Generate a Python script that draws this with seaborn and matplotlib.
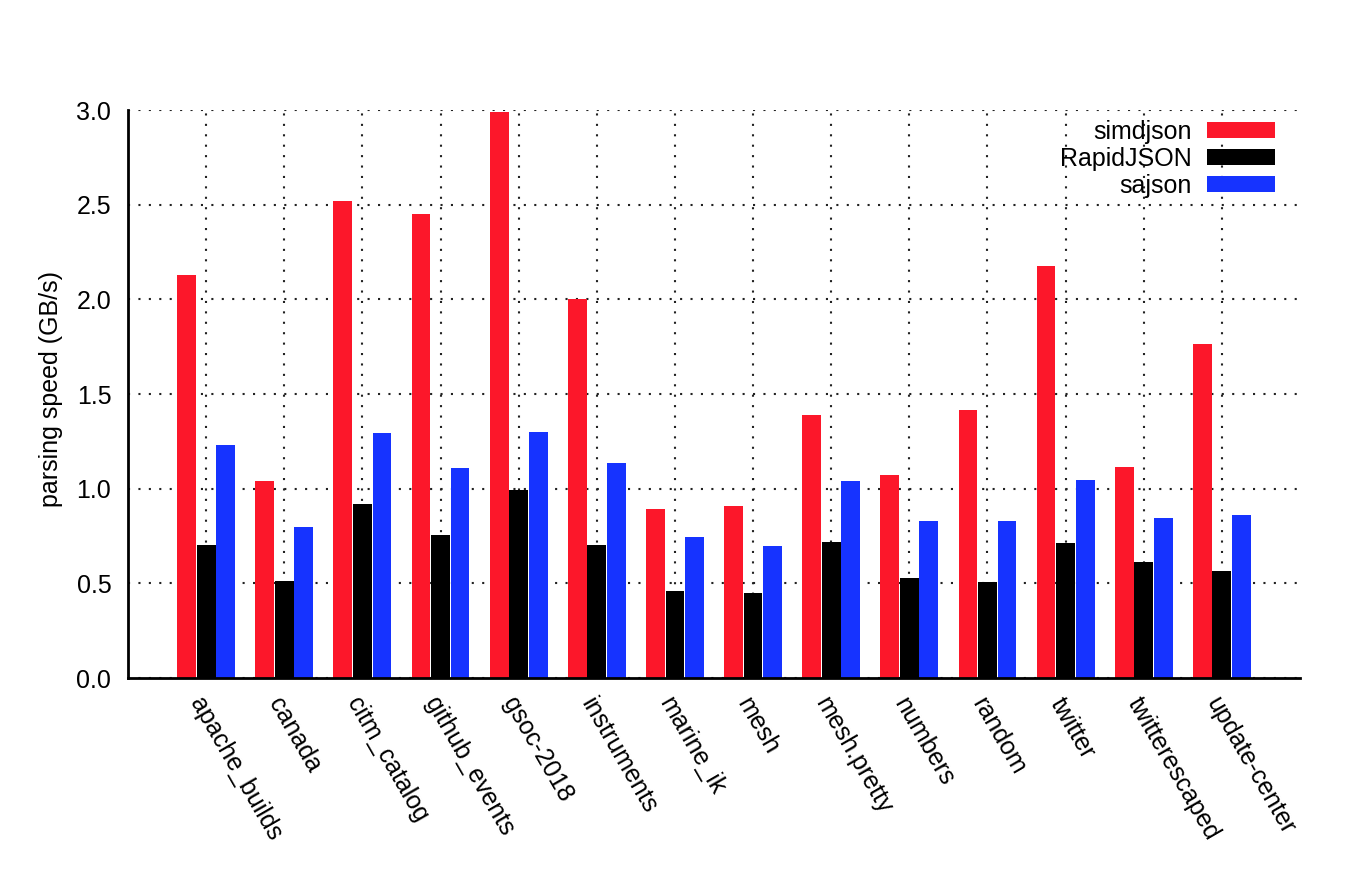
import pandas as pd
import seaborn as sns
import matplotlib.pyplot as plt

datasets = ["apache_builds", "canada", "citm_catalog", "github_events", "gsoc-2018",
            "instruments", "marine_ik", "mesh", "mesh.pretty", "numbers", "random",
            "twitter", "twitterescaped", "update-center"]
simdjson = [2.13, 1.04, 2.52, 2.45, 2.99, 2.00, 0.89, 0.91, 1.39, 1.07, 1.415, 2.175, 1.115, 1.765]
rapidjson = [0.70, 0.51, 0.92, 0.755, 0.993, 0.70, 0.46, 0.448, 0.72, 0.53, 0.507, 0.711, 0.611, 0.565]
sajson = [1.233, 0.80, 1.295, 1.11, 1.297, 1.135, 0.746, 0.696, 1.039, 0.83, 0.827, 1.045, 0.845, 0.859]
parsers = ["simdjson", "RapidJSON", "sajson"]
colors = ["#fc172a", "#000000", "#1633ff"]

rows = []
for name, vals in zip(parsers, [simdjson, rapidjson, sajson]):
    for d, v in zip(datasets, vals):
        rows.append({"file": d, "parser": name, "speed": v})
df = pd.DataFrame(rows)

sns.set_style("white")
plt.rcParams['font.family'] = ['Liberation Sans', 'DejaVu Sans']
plt.rcParams['font.size'] = 18
for k in ['text.color', 'axes.labelcolor', 'xtick.color', 'ytick.color']:
    plt.rcParams[k] = 'black'

fig = plt.figure(figsize=(13.58, 8.8), dpi=100)
ax = fig.add_axes([128 / 1358, 202 / 880, 1172 / 1358, 568 / 880])

sns.barplot(data=df, x="file", y="speed", hue="parser", hue_order=parsers,
            palette=colors, width=0.75, gap=0.04, linewidth=0, saturation=1,
            ax=ax, zorder=3)

ax.set_xlim(-1, len(datasets))
ax.set_ylim(0, 3.0)
yt = [0, 0.5, 1.0, 1.5, 2.0, 2.5, 3.0]
ax.set_yticks(yt)
ax.set_yticklabels([f"{v:.1f}" for v in yt])

# gnuplot-like dotted grid behind the bars
ax.grid(True, color="#222222", linestyle=(0, (1, 4)), linewidth=1.5, zorder=0)
ax.set_axisbelow(True)

for s in ["top", "right"]:
    ax.spines[s].set_visible(False)
for s in ["left", "bottom"]:
    ax.spines[s].set_linewidth(2)
    ax.spines[s].set_color("black")
    ax.spines[s].set_zorder(4)

ax.tick_params(axis="y", direction="in", length=8, width=2, pad=12, labelsize=18)
ax.tick_params(axis="x", length=0, pad=11, labelsize=18)
plt.setp(ax.get_xticklabels(), rotation=-60, ha="left", va="top", rotation_mode="anchor")

ax.set_xlabel("")
ax.set_ylabel("parsing speed (GB/s)", fontsize=18)
ax.yaxis.set_label_coords(-0.0555, 0.509)

ax.legend(loc="upper right", bbox_to_anchor=(0.979, 0.982), frameon=False,
          markerfirst=False, fontsize=18, handlelength=2.75, handleheight=0.6,
          labelspacing=0.12, borderpad=0, borderaxespad=0, handletextpad=0.6)

plt.savefig("out.png", dpi=100)
